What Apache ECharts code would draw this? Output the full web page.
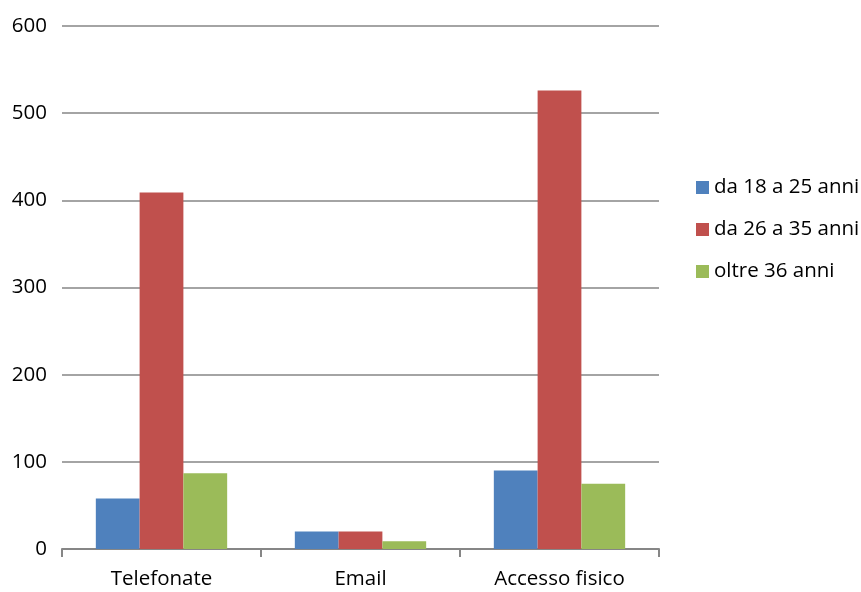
<!DOCTYPE html>
<html>
<head>
<meta charset="utf-8">
<script src="https://cdn.jsdelivr.net/npm/echarts@6/dist/echarts.min.js"></script>
<style>
  html, body { margin: 0; padding: 0; background: #fff; }
  #chart { width: 861px; height: 592px; }
</style>
</head>
<body>
<div id="chart"></div>
<script>
// Contacts by channel and age group
const categories = ['Telefonate', 'Email', 'Accesso fisico'];
const seriesNames = ['da 18 a 25 anni', 'da 26 a 35 anni', 'oltre 36 anni'];
const age18to25 = [58, 20, 90];
const age26to35 = [409, 20, 526];
const over36 = [87, 9, 75];
const colors = ['#4f81bd', '#c0504d', '#9bbb59'];

const font = 'Open Sans';
const fontSize = 20.5;
const valuesBySeries = [age18to25, age26to35, over36];

const chart = echarts.init(document.getElementById('chart'));
chart.setOption({
  animation: false,
  color: colors,
  textStyle: { fontFamily: font },
  grid: { left: 62, right: 202, top: 26, bottom: 43 },
  legend: {
    orient: 'vertical',
    left: 691,
    top: 172,
    itemWidth: 13,
    itemHeight: 13,
    itemGap: 21,
    icon: 'rect',
    textStyle: { fontFamily: font, fontSize: fontSize, color: '#000', padding: [0, 0, 0, 0] },
    data: seriesNames
  },
  xAxis: {
    type: 'category',
    data: categories,
    axisLine: { lineStyle: { color: '#868686', width: 2 } },
    axisTick: { show: true, length: 8, lineStyle: { color: '#868686', width: 2 } },
    axisLabel: { fontFamily: font, fontSize: fontSize, color: '#000', margin: 20 }
  },
  yAxis: {
    type: 'value',
    min: 0,
    max: 600,
    interval: 100,
    axisLine: { show: false },
    axisTick: { show: false },
    splitLine: { lineStyle: { color: '#868686', width: 1.5 } },
    axisLabel: { fontFamily: font, fontSize: fontSize, color: '#000', margin: 15 }
  },
  series: valuesBySeries.map((vals, i) => ({
    name: seriesNames[i],
    type: 'bar',
    data: vals,
    barGap: '0%',
    barCategoryGap: '34%'
  }))
});
</script>
</body>
</html>
